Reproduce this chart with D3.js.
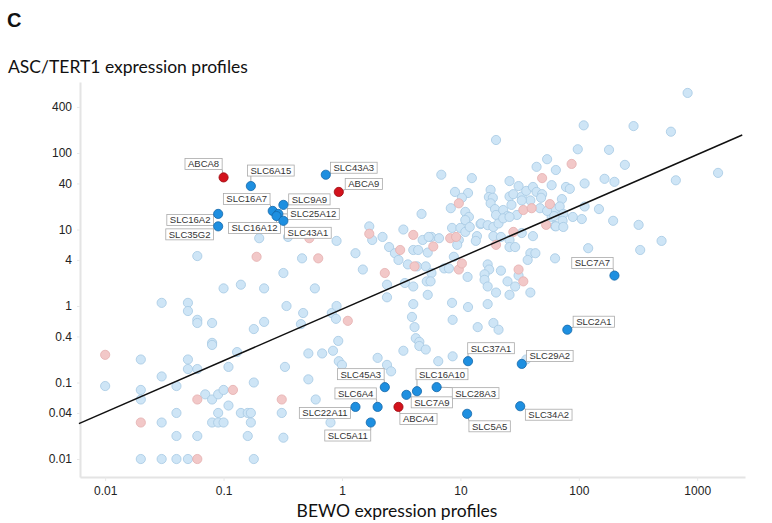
<!DOCTYPE html>
<html>
<head>
<meta charset="utf-8">
<script src="https://cdn.jsdelivr.net/npm/d3@7"></script>
<style>
body { margin: 0; background: #fff; }
</style>
</head>
<body>
<div class="content"></div>
<script>
// background transporters (light blue)
var bgX = [0.06,0.1,0.14,0.03,0.05,0.05,0.06,0.06,0.08,0.18,0.08,0.08,0.13,0.02,0.05,0.05,0.06,0.11,0.03,0.01,0.02,0.04,0.02,0.07,0.08,0.09,0.1,0.11,0.04,0.09,0.14,0.16,0.17,0.03,0.08,0.09,0.1,0.17,0.04,0.06,0.16,0.02,0.03,0.04,0.05,0.18,0.18,
  0.2,0.35,0.9,0.46,1.3,1.7,1.8,1.5,0.82,0.9,0.89,0.47,0.45,0.34,0.22,0.22,0.32,0.59,
  0.93,0.84,0.68,0.52,0.33,0.52,0.94,1.0,0.6,0.8,0.32,0.31,2.0,2.4,2.6,3.3,4.2,4.5,4.5,5.1,6.5,8.6,
  2.2,3.3,4.7,6.9,12.5,20,2.5,2.8,3.0,4,4.4,4.8,5.7,6.6,5.4,3.6,4.3,5.1,5.7,2.4,3.4,5.2,5.6,2.4,4,5.3,8.5,3.9,4.1,11.6,8.6,14,5.3,4,7.3,8,8.8,11.5,9,11.6,10.3,8.3,11,11.8,11,8.5,9.7,9.4,10,11,12,13.8,14.8,13.5,
  44,54,64,59,26,18,17.4,18.8,18,19.6,26,31,28,33,36,41,44,49,39,48,27,33,47,63,59,63,20,23,25,30,15,17,19,21,23,26,19,22,26,26,29,33,41,39,43,37,31,29,25,22,17,17.5,16,16,17,20,17,26,39,63,19,21,36,
  830,110,290,600,98,180,245,165,200,112,78,84,660,1500,72,69,112,148,54,62,74,89,106,73,64,74,195,320,500,330,120];
var bgY = [4.5,1.7,1.9,1.1,1.1,0.86,0.66,0.6,0.6,0.5,0.33,0.31,0.25,0.2,0.2,0.15,0.15,0.16,0.12,0.09,0.08,0.09,0.06,0.07,0.06,0.07,0.08,0.05,0.04,0.04,0.04,0.04,0.04,0.03,0.03,0.03,0.03,0.03,0.02,0.02,0.02,0.01,0.01,0.01,0.01,0.01,0.1,
  7.7,8,7.1,4.2,4.9,11,7.3,3,0.81,1.0,0.68,0.81,0.58,1.0,0.62,1.7,2.7,1.7,
  0.35,0.26,0.24,0.24,0.16,0.11,0.19,0.17,0.06,0.03,0.019,0.04,0.21,0.17,0.14,0.26,0.38,0.34,0.3,0.27,0.19,0.22,
  8,10,16,52,47,148,5.9,4.9,4,5.4,5.4,7.3,8,7.7,8,3.5,3.3,3.3,2.7,1.9,2,2.1,2.1,1.3,1.06,1.4,1.1,0.72,0.53,0.97,0.66,0.53,5,1.8,3.1,3.1,4.4,2.4,31,30,26,19,17,14.6,13.3,10.5,7.3,6.3,10.5,9.3,10.8,8.2,11.8,7.1,
  66,83,60,38,43,33,26.6,26,22,18.5,27,37,29,27,32,36,31,29,24,26,21,24,19,18.5,14.6,11.1,15.5,18,15,15.5,12,11.4,10.8,12,14,14.6,8.2,8,7.3,5.9,5.9,9,8.2,4.9,4.9,4,2.5,1.8,2.1,2.9,3.5,3,2.6,2.2,1.8,1.5,1.06,1.4,1.5,4.2,0.6,0.49,0.2,
  610,230,225,190,112,110,70,46,42,40,36,34,44,55,25,20,20,18.5,17.5,15,16,14.6,13.7,13,11,10.8,13,11.5,7.1,5.4,5.7];

// pink group
var pinkX = [0.01,0.06,0.12,0.02,0.06,0.19,0.53,0.63,1.7,1.12,0.31,3.1,4,5.9,4.1,2.3,9.7,9.7,10.3,8.2,9.2,49,34,40,57,53,28,20,31,34,87];
var pinkY = [0.23,0.06,0.08,0.03,0.01,4.4,7.7,4.2,8.8,0.64,0.06,5.4,8.5,6,3.3,2.7,22,3,3.6,7.7,8,47,18,19,21.5,11.5,9.3,6.3,3,2.1,72];

// labelled genes
var geneNames = ["ABCA8","SLC6A15","SLC43A3","ABCA9","SLC16A7","SLC9A9","SLC25A12","SLC16A12","SLC43A1","SLC16A2","SLC35G2","SLC7A7","SLC2A1","SLC37A1","SLC29A2","SLC45A3","SLC16A10","SLC6A4","SLC7A9","SLC28A3","SLC22A11","ABCA4","SLC5A11","SLC5A5","SLC34A2"];
var geneX = [0.1,0.17,0.73,0.94,0.26,0.32,0.29,0.28,0.32,0.09,0.09,200,80,11.6,33,2.3,4.3,2.0,3.5,6.3,1.3,3.0,1.75,11.4,32];
var geneY = [48,37,52,31,17.5,21,16,15,13,16,11,2.5,0.49,0.19,0.175,0.087,0.077,0.048,0.069,0.087,0.048,0.048,0.03,0.039,0.049];
var redGenes = ["ABCA8","ABCA9","ABCA4"];

// fitted line end points
var fitX = [0.006, 2400];
var fitY = [0.029, 172];

var xTicks = [0.01, 0.1, 1, 10, 100, 1000];
var yTicks = [0.01, 0.04, 0.1, 0.4, 1, 4, 10, 40, 100, 400];

// label box offsets from point (px)
var labelOff = {
  "ABCA8":[-20,-13.5], "SLC6A15":[20,-15.5], "SLC43A3":[28,-7], "ABCA9":[25,-8],
  "SLC16A7":[-26,-12], "SLC9A9":[26,-5.5], "SLC25A12":[35,0], "SLC16A12":[-22,12],
  "SLC43A1":[24.5,12], "SLC16A2":[-28,6], "SLC35G2":[-28.5,8], "SLC7A7":[-22,-12.5],
  "SLC2A1":[26.5,-8], "SLC37A1":[23,-13], "SLC29A2":[28,-8], "SLC45A3":[-24,-13],
  "SLC16A10":[25,-17], "SLC6A4":[-22,-13.5], "SLC7A9":[25.5,7.5], "SLC28A3":[39,6],
  "SLC22A11":[-30.5,6], "ABCA4":[20,12], "SLC5A11":[-23,13], "SLC5A5":[22.5,12.5],
  "SLC34A2":[28.5,8.5]
};

function drawChart() {
  var width = 772, height = 523;
  var mLeft = 80, mRight = 745, mTop = 82, mBottom = 477;

  var svg = d3.select(".content").append("svg").attr("width", width).attr("height", height)
    .style("font-family", "'Liberation Sans', Arial, sans-serif");

  var x = d3.scaleLog().domain([0.00613, 2533]).range([mLeft, mRight]);
  var y = d3.scaleLog().domain([0.00582, 848]).range([mBottom, mTop]);

  // panel letter and titles
  svg.append("text").attr("x", 7).attr("y", 27).text("C")
    .style("font-size", "20px").style("font-weight", "bold").attr("fill", "#111");
  svg.append("text").attr("x", 8).attr("y", 73).text("ASC/TERT1 expression profiles")
    .style("font-family", "Lato, 'Open Sans', sans-serif").style("font-size", "17.5px").attr("fill", "#111");
  svg.append("text").attr("x", 397).attr("y", 517).attr("text-anchor", "middle").text("BEWO expression profiles")
    .style("font-family", "Lato, 'Open Sans', sans-serif").style("font-size", "17.5px").attr("fill", "#111");

  // axes
  var fmt = d3.format("~g");
  var xAxis = svg.append("g").attr("transform", "translate(0," + mBottom + ")")
    .call(d3.axisBottom(x).tickValues(xTicks).tickFormat(fmt).tickSize(4).tickSizeOuter(0).tickPadding(5));
  var yAxis = svg.append("g").attr("transform", "translate(" + mLeft + ",0)")
    .call(d3.axisLeft(y).tickValues(yTicks).tickFormat(fmt).tickSize(3).tickSizeOuter(0).tickPadding(5));
  [xAxis, yAxis].forEach(function(a) {
    a.select(".domain").attr("stroke", "#e4e4e4").attr("stroke-width", 2);
    a.selectAll(".tick line").attr("stroke", "#e8e8e8");
    a.selectAll(".tick text").attr("fill", "#222").style("font-size", "12px")
      .style("font-family", "'Liberation Sans', Arial, sans-serif");
  });

  // points
  var r = 4.6;
  svg.append("g").selectAll("circle").data(d3.range(bgX.length)).enter().append("circle")
    .attr("cx", function(i){ return x(bgX[i]); }).attr("cy", function(i){ return y(bgY[i]); })
    .attr("r", r).attr("fill", "#cee5f6").attr("stroke", "#a6c9e3").attr("stroke-width", 0.8);
  svg.append("g").selectAll("circle").data(d3.range(pinkX.length)).enter().append("circle")
    .attr("cx", function(i){ return x(pinkX[i]); }).attr("cy", function(i){ return y(pinkY[i]); })
    .attr("r", r).attr("fill", "#f2c8c8").attr("stroke", "#e4aeae").attr("stroke-width", 0.8);

  // regression line
  var line = d3.line().x(function(i){ return x(fitX[i]); }).y(function(i){ return y(fitY[i]); });
  svg.append("path").datum([0, 1]).attr("d", line).attr("stroke", "#111").attr("stroke-width", 1.5).attr("fill", "none");

  // labels with leader lines
  var labG = svg.append("g");
  geneNames.forEach(function(name, i) {
    var px = x(geneX[i]), py = y(geneY[i]);
    var off = labelOff[name];
    var cx = px + off[0], cy = py + off[1];
    var t = labG.append("text").attr("x", cx).attr("y", cy + 3.4).attr("text-anchor", "middle")
      .text(name).style("font-size", "9.5px").attr("fill", "#333");
    var w = t.node().getComputedTextLength() + 6, h = 11;
    var bx = cx - w / 2, by = cy - h / 2;
    var nx = Math.max(bx, Math.min(px, bx + w)), ny = Math.max(by, Math.min(py, by + h));
    labG.insert("line", "text").attr("x1", px).attr("y1", py).attr("x2", nx).attr("y2", ny)
      .attr("stroke", "#999").attr("stroke-width", 0.8);
    labG.insert("rect", "text").attr("x", bx).attr("y", by).attr("width", w).attr("height", h)
      .attr("fill", "#fff").attr("stroke", "#aaa").attr("stroke-width", 0.8);
  });

  // highlighted gene points
  svg.append("g").selectAll("circle").data(d3.range(geneNames.length)).enter().append("circle")
    .attr("cx", function(i){ return x(geneX[i]); }).attr("cy", function(i){ return y(geneY[i]); })
    .attr("r", r)
    .attr("fill", function(i){ return redGenes.indexOf(geneNames[i]) >= 0 ? "#d3121c" : "#1e8fe0"; })
    .attr("stroke", function(i){ return redGenes.indexOf(geneNames[i]) >= 0 ? "#9a0a10" : "#1467a8"; })
    .attr("stroke-width", 0.8);
}
drawChart();
</script>
</body>
</html>
